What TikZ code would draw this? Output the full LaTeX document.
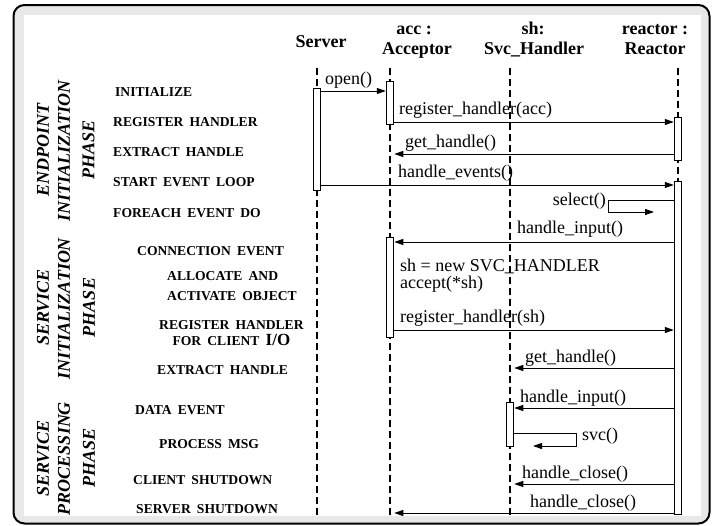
\documentclass[tikz,border=0pt]{standalone}
\usepackage{fontspec}
\setmainfont{Liberation Serif}
\usetikzlibrary{arrows.meta}
\definecolor{framegray}{gray}{0.91}
\newcommand\wgap{\hspace{0.45em}}

\begin{document}
\begin{tikzpicture}[x=1pt,y=-1pt,
  lifeline/.style={line width=1.3pt, dash pattern=on 7pt off 4pt},
  actbox/.style={draw, fill=white, line width=1pt, minimum width=7.5pt, inner sep=0pt, anchor=north},
  msg/.style={line width=1pt, -{Triangle[length=9pt,width=6pt]}},
  msglbl/.style={inner sep=0pt, font=\fontsize{18}{20}\selectfont},
  head/.style={anchor=base, inner sep=0pt, font=\fontsize{18}{20}\selectfont\bfseries},
  steplbl/.style={anchor=base west, inner sep=0pt, font=\fontsize{13.6}{16}\selectfont\bfseries},
  phase/.style={rotate=90, inner sep=0pt, font=\fontsize{18}{20}\selectfont\bfseries\itshape}
]
\useasboundingbox (0,0) rectangle (714,525);

% frame
\draw[line width=2pt, fill=framegray, rounded corners=11pt] (13.5,5) rectangle (709.5,523.5);
\fill[white] (24,15) rectangle (701,516);

% object headers
\node[head] (srvH)  at (321,47) {Server};
\node[head] (accH1) at (414,34) {acc :};
\node[head] (accH2) at (417,54) {Acceptor};
\node[head] (shH1)  at (533,34) {sh:};
\node[head] (shH2)  at (534,54) {Svc\_Handler};
\node[head] (reaH1) at (655,34) {reactor :};
\node[head] (reaH2) at (655,54) {Reactor};

% lifelines
\coordinate (srvTop) at (317,68);  \coordinate (srvBot) at (317,516);
\coordinate (accTop) at (390,68);  \coordinate (accBot) at (390,516);
\coordinate (shTop)  at (510,68);  \coordinate (shBot)  at (510,516);
\coordinate (reaTop) at (678,68);  \coordinate (reaBot) at (678,516);
\draw[lifeline] (srvTop) -- (srvBot);
\draw[lifeline] (accTop) -- (accBot);
\draw[lifeline] (shTop) -- (shBot);
\draw[lifeline] (reaTop) -- (reaBot);

% activation boxes
\node[actbox, minimum height=102pt] (srvA) at (317,88) {};
\node[actbox, minimum height=43pt]  (accA) at (390,81) {};
\node[actbox, minimum height=43pt]  (reaA) at (678,117) {};
\node[actbox, minimum height=333pt] (reaB) at (678,181) {};
\node[actbox, minimum height=100pt] (accB) at (390,237) {};
\node[actbox, minimum height=44pt]  (shA)  at (510,402) {};

% messages
\draw[msg] (srvA.east |- 0,91) -- (accA.west |- 0,91);
\draw[msg] (accA.east |- 0,122) -- (reaA.west |- 0,122);
\draw[msg] (reaA.west |- 0,154) -- (accB.east |- 0,154);
\draw[msg] (srvA.east |- 0,185) -- (reaB.west |- 0,185);
\coordinate (selTurn) at (608,212);
\coordinate (selEnd) at (654,212);
\draw[msg] (reaB.west |- 0,200) -| (selTurn) -- (selEnd);
\draw[msg] (reaB.west |- 0,242) -- (accB.east |- 0,242);
\draw[msg] (accB.east |- 0,330) -- (reaB.west |- 0,330);
\draw[msg] (reaB.west |- 0,368) -- (shA.east |- 0,368);
\draw[msg] (reaB.west |- 0,408) -- (shA.east |- 0,408);
\coordinate (svcTurn) at (576,446);
\coordinate (svcEnd) at (533,446);
\draw[msg] (shA.east |- 0,433) -| (svcTurn) -- (svcEnd);
\draw[msg] (reaB.west |- 0,484) -- (shA.east |- 0,484);
\draw[msg] (reaB.west |- 0,513) -- (accB.east |- 0,513);

% message labels
\node[msglbl, anchor=base west] (l1)  at (325,84)  {open()};
\node[msglbl, anchor=base west] (l2)  at (399,114) {register\_handler(acc)};
\node[msglbl, anchor=base west] (l3)  at (405,147) {get\_handle()};
\node[msglbl, anchor=base west] (l4)  at (398,177) {handle\_events()};
\node[msglbl, anchor=base east] (l5)  at (606,205) {select()};
\node[msglbl, anchor=base west] (l6)  at (517,233) {handle\_input()};
\node[msglbl, anchor=base west] (l7)  at (400,271)
  {\fontsize{18}{16}\selectfont\begin{tabular}[t]{@{}l@{}}sh = new SVC\_HANDLER\\ accept(*sh)\end{tabular}};
\node[msglbl, anchor=base west] (l9)  at (400,322) {register\_handler(sh)};
\node[msglbl, anchor=base west] (l10) at (525,362) {get\_handle()};
\node[msglbl, anchor=base west] (l11) at (520,402) {handle\_input()};
\node[msglbl, anchor=base west] (l12) at (582,440) {svc()};
\node[msglbl, anchor=base west] (l13) at (522,478) {handle\_close()};
\node[msglbl, anchor=base west] (l14) at (530,507) {handle\_close()};

% step descriptions
\node[steplbl] (s1)  at (115,96.5) {INITIALIZE};
\node[steplbl] (s2)  at (113,126) {REGISTER\wgap HANDLER};
\node[steplbl] (s3)  at (113,156) {EXTRACT\wgap HANDLE};
\node[steplbl] (s4)  at (113,186) {START\wgap EVENT\wgap LOOP};
\node[steplbl] (s5)  at (113,217) {FOREACH\wgap EVENT\wgap DO};
\node[steplbl] (s6)  at (137,255) {CONNECTION\wgap EVENT};
\node[steplbl] (s7)  at (167,280)
  {\fontsize{13.6}{20}\selectfont\begin{tabular}[t]{@{}l@{}}ALLOCATE\wgap AND\\ ACTIVATE\wgap OBJECT\end{tabular}};
\node[steplbl] (s9)  at (159,329.5)
  {\fontsize{13.6}{15.5}\selectfont\begin{tabular}[t]{@{}c@{}}REGISTER\wgap HANDLER\\ FOR\wgap CLIENT\wgap \smash{\fontsize{17}{20}\selectfont I/O}\end{tabular}};
\node[steplbl] (s11) at (157,374) {EXTRACT\wgap HANDLE};
\node[steplbl] (s12) at (135,414) {DATA\wgap EVENT};
\node[steplbl] (s13) at (159,448) {PROCESS\wgap MSG};
\node[steplbl] (s14) at (133,484) {CLIENT\wgap SHUTDOWN};
\node[steplbl] (s15) at (136,513) {SERVER\wgap SHUTDOWN};

% phase titles
\node[phase] (p1a) at (43,150)   {ENDPOINT};
\node[phase] (p1b) at (64,151)   {INITIALIZATION};
\node[phase] (p1c) at (88.5,150) {PHASE};
\node[phase] (p2a) at (43,307.5) {SERVICE};
\node[phase] (p2b) at (64,308.5) {INITIALIZATION};
\node[phase] (p2c) at (89,307.5) {PHASE};
\node[phase] (p3a) at (43,458.5) {SERVICE};
\node[phase] (p3b) at (64,458.5) {PROCESSING};
\node[phase] (p3c) at (89,458)   {PHASE};
\end{tikzpicture}
\end{document}
